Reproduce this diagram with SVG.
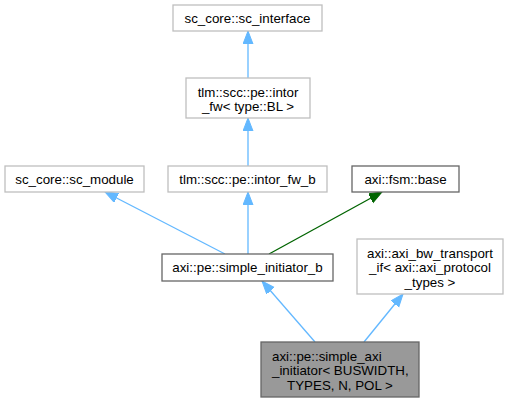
<svg xmlns="http://www.w3.org/2000/svg" width="512" height="403" viewBox="0 0 512 403">
<defs>
<style>
.n rect{fill:#ffffff;stroke:#bfbfbf;stroke-width:1.3}
.n.d rect{stroke:#666666}
.n.c rect{fill:#999999;stroke:#666666}
text{font-family:"Liberation Sans",Arial,Helvetica,sans-serif;font-size:13.33px;fill:#000000}
.m{text-anchor:middle}
.e{fill:none;stroke:#63b8ff;stroke-width:1.3}
.g{fill:none;stroke:#006400;stroke-width:1.3}
</style>
<marker id="ab" markerUnits="userSpaceOnUse" markerWidth="14" markerHeight="12" refX="13" refY="5" orient="auto" viewBox="0 0 14 12">
<path d="M0,0 L13,5 L0,10 z" fill="#63b8ff" stroke="#63b8ff" stroke-width="1"/>
</marker>
<marker id="ag" markerUnits="userSpaceOnUse" markerWidth="14" markerHeight="12" refX="13" refY="5" orient="auto" viewBox="0 0 14 12">
<path d="M0,0 L13,5 L0,10 z" fill="#006400" stroke="#006400" stroke-width="1"/>
</marker>
</defs>
<rect width="512" height="403" fill="#ffffff"/>
<g id="connectors">
<line class="e" x1="248" y1="78" x2="248" y2="31" marker-end="url(#ab)"/>
<line class="e" x1="248" y1="166" x2="248" y2="118" marker-end="url(#ab)"/>
<line class="e" x1="225" y1="254" x2="105" y2="192" marker-end="url(#ab)"/>
<line class="e" x1="248" y1="254" x2="248" y2="192" marker-end="url(#ab)"/>
<line class="g" x1="269" y1="254" x2="382" y2="192" marker-end="url(#ag)"/>
<line class="e" x1="315" y1="342" x2="262" y2="281" marker-end="url(#ab)"/>
<line class="e" x1="364" y1="342" x2="403" y2="294" marker-end="url(#ab)"/>
</g>
<g id="sc_interface" class="n">
<rect x="173" y="5" width="149" height="26"/>
<text class="m" x="247.5" y="22.5">sc_core::sc_interface</text>
</g>
<g id="intor_fw" class="n">
<rect x="186" y="78" width="124" height="40"/>
<text class="m" x="248" y="96.5">tlm::scc::pe::intor</text>
<text class="m" x="248" y="110.5">_fw&lt; type::BL &gt;</text>
</g>
<g id="sc_module" class="n">
<rect x="5" y="166" width="139" height="26"/>
<text class="m" x="74.5" y="183.5">sc_core::sc_module</text>
</g>
<g id="intor_fw_b" class="n">
<rect x="168" y="166" width="159" height="26"/>
<text class="m" x="247.5" y="183.5">tlm::scc::pe::intor_fw_b</text>
</g>
<g id="fsm_base" class="n d">
<rect x="352" y="166" width="107" height="26"/>
<text class="m" x="405.5" y="183.5">axi::fsm::base</text>
</g>
<g id="simple_initiator_b" class="n d">
<rect x="162" y="254" width="171" height="27"/>
<text class="m" x="247.5" y="272">axi::pe::simple_initiator_b</text>
</g>
<g id="axi_bw_transport_if" class="n">
<rect x="357" y="239" width="146" height="55"/>
<text class="m" x="430" y="257.5">axi::axi_bw_transport</text>
<text class="m" x="430" y="272">_if&lt; axi::axi_protocol</text>
<text class="m" x="430" y="286.5">_types &gt;</text>
</g>
<g id="simple_axi_initiator" class="n c">
<rect x="261" y="342" width="158" height="55"/>
<text x="272" y="360.5">axi::pe::simple_axi</text>
<text x="272" y="375">_initiator&lt; BUSWIDTH,</text>
<text class="m" x="340" y="389.5">TYPES, N, POL &gt;</text>
</g>
</svg>
